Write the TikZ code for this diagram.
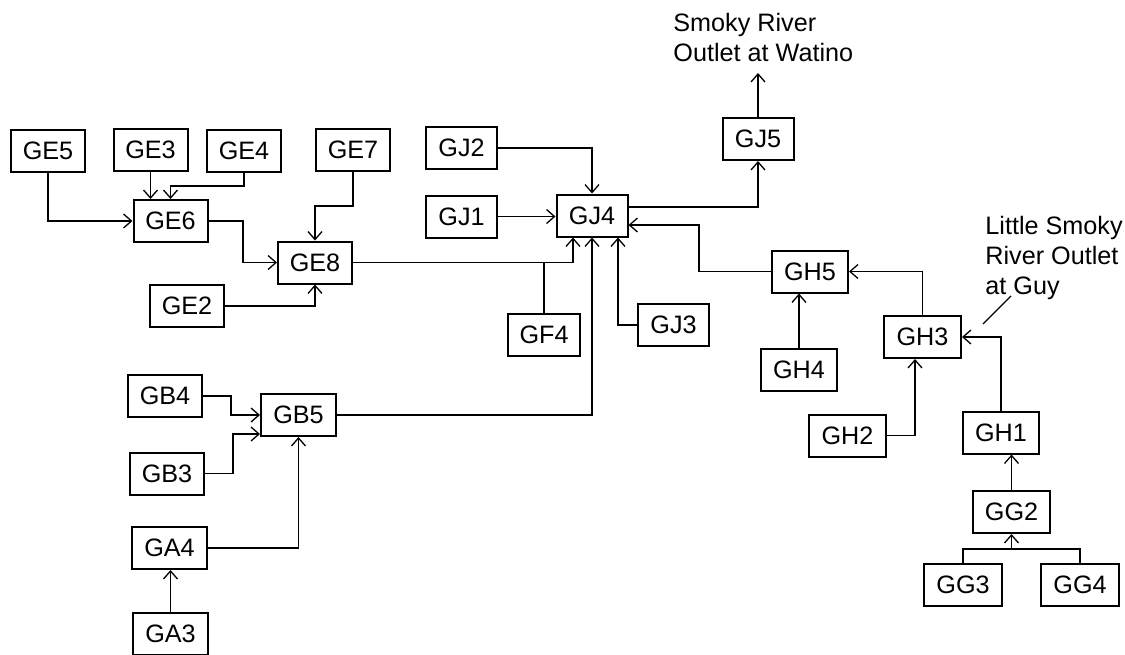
\documentclass[tikz,border=0pt]{standalone}
\usepackage{fontspec}
\setmainfont{Liberation Sans}
\usetikzlibrary{arrows.meta}
\begin{document}
\begin{tikzpicture}[x=0.5pt,y=-0.5pt,
  box/.style={draw,line width=1pt,rectangle,inner sep=0pt,minimum width=37pt,minimum height=21pt,font=\fontsize{12.6}{15}\selectfont},
  gj/.style={box,minimum width=35.5pt},
  conn/.style={line width=0.65pt},
  arr/.style={conn,-{Straight Barb[length=4pt,width=7pt,line width=0.65pt]}},
  lbl/.style={inner sep=0pt,align=left,anchor=north west,font=\fontsize{12.6}{15}\selectfont}]
\useasboundingbox (0,0) rectangle (1125,654);
% nodes
\node[box] (GE5) at (48,151) {GE5};
\node[box] (GE3) at (150.5,149.5) {GE3};
\node[box] (GE4) at (244,150.5) {GE4};
\node[box] (GE7) at (353,149.5) {GE7};
\node[box] (GE6) at (170.5,221) {GE6};
\node[box] (GE8) at (315,262.5) {GE8};
\node[box] (GE2) at (187,306) {GE2};
\node[gj] (GJ2) at (461.5,148) {GJ2};
\node[gj] (GJ1) at (461.5,216.5) {GJ1};
\node[gj] (GJ4) at (592,215.5) {GJ4};
\node[box,minimum width=36pt] (GF4) at (544,334.5) {GF4};
\node[gj] (GJ3) at (673.5,325) {GJ3};
\node[gj] (GJ5) at (758,139) {GJ5};
\node[box,minimum width=38pt] (GH5) at (810,271.5) {GH5};
\node[box,minimum width=38pt] (GH4) at (799,370) {GH4};
\node[box,minimum width=38.5pt] (GH3) at (922.5,337) {GH3};
\node[box,minimum width=38.5pt] (GH2) at (847.5,435.5) {GH2};
\node[box,minimum width=38pt] (GH1) at (1001,432.5) {GH1};
\node[box,minimum width=38.5pt] (GG2) at (1011.5,512) {GG2};
\node[box,minimum width=39pt] (GG3) at (963,585) {GG3};
\node[box,minimum width=39pt] (GG4) at (1080,585) {GG4};
\node[box] (GB4) at (165,396) {GB4};
\node[box,minimum width=37.5pt] (GB5) at (298.5,415) {GB5};
\node[box] (GB3) at (167,473.5) {GB3};
\node[box,minimum width=37.5pt] (GA4) at (169.5,548) {GA4};
\node[box,minimum width=37.5pt] (GA3) at (170.5,634) {GA3};
% labels
\node[lbl] (watino) at (673,13) {Smoky River\\Outlet at Watino};
\node[lbl] (guy) at (985,216) {Little Smoky\\River Outlet\\at Guy};
\coordinate (out) at (758,73);
\coordinate (leadA) at (983,324);
\coordinate (leadB) at (1011,296);
% connectors
\draw[arr] (GE5.south) |- (GE6.west);
\draw[arr] (GE3.south) -- (GE3.south |- GE6.north);
\draw[arr] (GE4.south) -- (GE4.south |- 0,186) -| (GE6.north);
\draw[arr] (GE7.south) -- (GE7.south |- 0,206) -| (GE8.north);
\draw[arr] (GE6.east) -- (GE6.east -| 243,0) |- (GE8.west);
\draw[arr] (GE2.east) -| (GE8.south);
\draw[arr] (GE8.east) -| (GJ4.south -| 573,0);
\draw[conn] (GF4.north) -- (GF4.north |- GE8.east);
\draw[arr] (GB5.east) -| (GJ4.south);
\draw[arr] (GJ3.west) -| (GJ4.south -| 618,0);
\draw[arr] (GJ2.east) -| (GJ4.north);
\draw[arr] (GJ1.east) -- (GJ4.west |- GJ1.east);
\draw[arr] (GJ4.east |- 0,207) -| (GJ5.south);
\draw[arr] (GJ5.north) -- (out);
\draw[arr] (GH5.west) -- (GH5.west -| 699,0) |- (GJ4.east |- 0,225);
\draw[arr] (GH4.north) -- (GH4.north |- GH5.south);
\draw[arr] (GH3.north) |- (GH5.east);
\draw[arr] (GH2.east) -| (GH3.south -| 915,0);
\draw[arr] (GH1.north) |- (GH3.east);
\draw[arr] (GG2.north) -- (GG2.north |- GH1.south);
\draw[conn] (GG3.north) -- (GG3.north |- 0,549) -| (GG4.north);
\draw[arr] (GG2.south |- 0,549) -- (GG2.south);
\draw[arr] (GB4.east) -- (GB4.east -| 231,0) |- (GB5.west);
\draw[arr] (GB3.east) -- (GB3.east -| 233,0) |- (GB5.west |- 0,434);
\draw[arr] (GA4.east) -| (GB5.south);
\draw[arr] (GA3.north) -- (GA3.north |- GA4.south);
\draw[conn] (leadA) -- (leadB);
\end{tikzpicture}
\end{document}
